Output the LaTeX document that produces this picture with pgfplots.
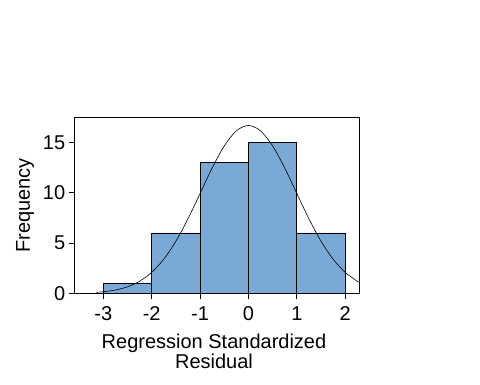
\documentclass[border=0pt]{standalone}
\usepackage{pgfplots}
\pgfplotsset{compat=1.18}
\usepackage{fontspec}
\setmainfont{Liberation Sans}
\definecolor{barblue}{RGB}{122,169,214}
\begin{document}
\begin{tikzpicture}[x=1pt,y=1pt]
\path[use as bounding box] (0,0) rectangle (480,384);
\begin{axis}[
  at={(74.7pt,90.7pt)}, anchor=south west,
  scale only axis, width=284.6pt, height=176pt,
  xmin=-3.59, xmax=2.29, ymin=0, ymax=17.5,
  xtick={-3,-2,-1,0,1,2}, ytick={0,5,10,15},
  xticklabels={-3,-2,-1,0,1,2},
  yticklabels={0,5,10,15},
  tick align=outside, major tick length=6pt,
  xtick pos=bottom, ytick pos=left,
  axis line style={black, line width=0.8pt},
  tick style={black, line width=0.8pt},
  tick label style={font=\fontsize{20}{22}\selectfont},
  xticklabel style={yshift=-4pt},
  label style={font=\fontsize{20}{20}\selectfont},
  ylabel={Frequency}, ylabel style={yshift=2pt},
  xlabel={Regression Standardized\\Residual},
  xlabel style={align=center, yshift=-6pt, xshift=-3pt},
  clip=true,
]
\addplot[ybar interval, fill=barblue, draw=black, line width=0.8pt]
  coordinates {(-3,1) (-2,6) (-1,13) (0,15) (1,6) (2,6)};
\addplot[black, line width=0.6pt, smooth] coordinates {
(-3.14,0.098) (-3.0,0.154) (-2.75,0.326) (-2.5,0.644) (-2.25,1.196)
(-2.0,2.081) (-1.75,3.388) (-1.5,5.172) (-1.25,7.399) (-1.0,9.917)
(-0.75,12.454) (-0.5,14.652) (-0.25,16.156) (0,16.69)
(0.25,16.156) (0.5,14.652) (0.75,12.454) (1.0,9.917) (1.25,7.399)
(1.5,5.172) (1.75,3.388) (2.0,2.081) (2.25,1.196) (2.29,1.088)
};
\end{axis}
\end{tikzpicture}
\end{document}
